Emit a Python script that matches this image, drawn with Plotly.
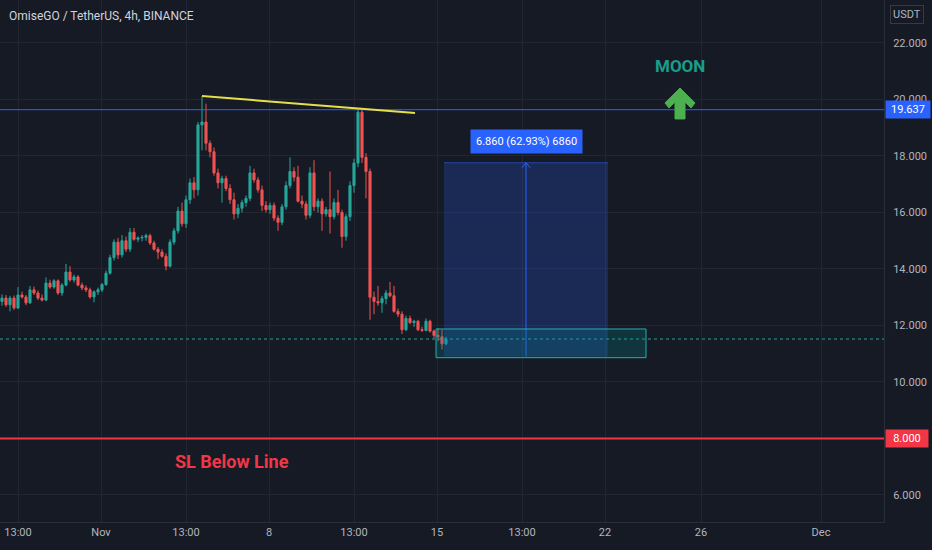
import plotly.graph_objects as go
import pandas as pd

# ---- OHLC data (OMG/USDT 4h) ----
opens = [12.85, 12.97, 12.73, 12.97, 12.62, 13.08, 13.01, 12.80, 13.26, 13.15,
         12.97, 12.90, 13.50, 13.36, 13.58, 13.15, 13.43, 13.89, 13.61, 13.72,
         13.43, 13.33, 13.26, 13.01, 13.19, 13.26, 13.45, 13.85, 14.40, 14.95,
         14.50, 15.00, 14.70, 15.30, 15.05, 15.10, 15.12, 15.18, 14.92, 14.70,
         14.60, 14.45, 14.10, 14.95, 15.35, 16.05, 15.60, 16.45, 17.05, 16.80,
         19.10, 19.20, 18.45, 18.15, 17.40, 17.05, 17.20, 16.85, 16.45, 15.95,
         16.15, 16.35, 16.50, 17.40, 17.15, 16.80, 16.25, 16.10, 16.25, 15.80,
         15.65, 16.20, 16.95, 17.45, 17.25, 16.40, 16.30, 15.90, 17.40, 16.20,
         16.40, 15.95, 16.10, 15.85, 16.35, 16.00, 15.15, 15.85, 16.95, 17.75,
         19.55, 17.95, 17.45, 13.00, 12.85, 12.80, 12.95, 13.15, 13.05, 12.50,
         12.40, 11.85, 12.25, 12.10, 12.15, 11.85, 11.82, 12.15, 11.80, 11.65,
         11.60, 11.35]
highs = [13.10, 13.08, 13.05, 13.06, 13.36, 13.20, 13.08, 13.40, 13.38, 13.24,
         13.10, 13.70, 13.62, 13.64, 13.63, 13.50, 14.18, 14.10, 13.80, 13.78,
         13.52, 13.42, 13.34, 13.24, 13.34, 13.50, 13.95, 14.50, 15.05, 15.10,
         15.20, 15.15, 15.45, 15.45, 15.15, 15.20, 15.25, 15.25, 15.00, 14.78,
         14.70, 14.55, 15.05, 15.45, 16.20, 16.35, 16.60, 17.20, 17.25, 19.20,
         20.12, 19.85, 18.55, 18.30, 17.55, 17.30, 17.30, 17.00, 16.70, 16.30,
         16.45, 16.60, 17.65, 17.55, 17.25, 16.95, 16.40, 16.35, 16.35, 15.90,
         16.30, 17.10, 17.95, 17.60, 17.65, 16.60, 16.40, 17.60, 17.85, 16.50,
         16.50, 16.20, 17.45, 16.50, 16.80, 16.10, 15.95, 17.10, 17.90, 19.70,
         19.65, 18.10, 17.55, 13.20, 13.40, 13.05, 13.25, 13.54, 13.40, 12.60,
         12.50, 12.35, 12.35, 12.20, 12.20, 11.95, 12.25, 12.20, 11.85, 11.90,
         11.85, 11.60]
lows = [12.70, 12.66, 12.50, 12.55, 12.58, 12.95, 12.72, 12.76, 13.08, 12.90,
        12.85, 12.86, 13.30, 13.30, 13.08, 13.05, 13.38, 13.55, 13.52, 13.38,
        13.25, 13.18, 12.95, 12.82, 13.08, 13.18, 13.40, 13.80, 14.30, 14.35,
        14.40, 14.60, 14.60, 15.00, 14.95, 14.98, 15.00, 14.85, 14.65, 14.35,
        14.40, 13.95, 14.05, 14.85, 15.25, 15.50, 15.45, 16.30, 16.50, 16.60,
        18.20, 18.20, 17.95, 17.30, 16.85, 16.35, 16.75, 16.30, 15.75, 15.80,
        16.00, 16.20, 16.40, 17.05, 16.70, 16.05, 16.00, 15.95, 15.70, 15.35,
        15.55, 16.10, 16.85, 17.10, 16.35, 16.15, 15.75, 15.80, 16.05, 16.00,
        15.35, 15.85, 15.25, 15.75, 15.90, 14.75, 15.00, 15.70, 16.70, 17.60,
        17.75, 16.50, 12.20, 12.40, 12.70, 12.45, 12.75, 13.00, 12.45, 12.30,
        11.70, 11.80, 12.05, 11.95, 11.80, 11.78, 11.80, 11.75, 11.55, 11.45,
        11.15, 11.30]
closes = [12.97, 12.73, 12.97, 12.62, 13.08, 13.01, 12.80, 13.26, 13.15, 12.97,
          12.90, 13.50, 13.36, 13.58, 13.15, 13.43, 13.89, 13.61, 13.72, 13.43,
          13.33, 13.26, 13.01, 13.19, 13.26, 13.45, 13.85, 14.40, 14.95, 14.50,
          15.00, 14.70, 15.30, 15.05, 15.10, 15.12, 15.18, 14.92, 14.70, 14.60,
          14.45, 14.10, 14.95, 15.35, 16.05, 15.60, 16.45, 17.05, 16.80, 19.10,
          19.20, 18.45, 18.15, 17.40, 17.05, 17.20, 16.85, 16.45, 15.95, 16.15,
          16.35, 16.50, 17.40, 17.15, 16.80, 16.25, 16.10, 16.25, 15.80, 15.65,
          16.20, 16.95, 17.45, 17.25, 16.40, 16.30, 15.90, 17.40, 16.20, 16.40,
          15.95, 16.10, 15.85, 16.35, 16.00, 15.15, 15.85, 16.95, 17.75, 19.55,
          17.95, 17.45, 13.00, 12.85, 12.80, 12.95, 13.15, 13.05, 12.50, 12.40,
          11.85, 12.25, 12.10, 12.15, 11.85, 11.82, 12.15, 11.80, 11.65, 11.60,
          11.35, 11.52]
first_candle = "2021-10-27 21:00"
times = pd.date_range(first_candle, periods=len(closes), freq="4h")

# ---- axis ticks ----
x_tickvals = ["2021-10-28 13:00", "2021-11-01", "2021-11-04 13:00", "2021-11-08",
              "2021-11-11 13:00", "2021-11-15", "2021-11-18 13:00", "2021-11-22",
              "2021-11-26", "2021-12-01"]
x_ticktext = ["13:00", "Nov", "13:00", "8", "13:00", "15", "13:00", "22", "26", "Dec"]
y_tickvals = [6, 8, 10, 12, 14, 16, 18, 20, 22]
x_range = ["2021-10-27 19:00", "2021-12-03 15:00"]
y_range = [5.044, 23.52]

# ---- drawing levels ----
resistance = 19.637
stop_level = 8.0
last_price = closes[-1]
trend_pts = (("2021-11-05 05:00", 20.12), ("2021-11-14 02:00", 19.52))
range_low, range_high = 10.901, 17.761
range_x = ("2021-11-15 07:00", "2021-11-22 03:00")
range_mid_x = "2021-11-18 17:00"
range_label = "6.860 (62.93%) 6860"
entry_box = (("2021-11-14 23:00", 10.86), ("2021-11-23 17:00", 11.876))

BG = "#161a25"
GRID = "#232632"
AXC = "#b2b5be"
GREEN = "#26a69a"
RED = "#ef5350"
FONT = "Roboto, Noto Sans, sans-serif"

fig = go.Figure(go.Candlestick(
    x=times, open=opens, high=highs, low=lows, close=closes,
    increasing=dict(line=dict(color=GREEN, width=1), fillcolor=GREEN),
    decreasing=dict(line=dict(color=RED, width=1), fillcolor=RED),
    whiskerwidth=0, hoverinfo="skip", showlegend=False,
))

shapes = [
    dict(type="line", xref="paper", x0=0, x1=1, yref="y", y0=resistance, y1=resistance,
         line=dict(color="#2962ff", width=1)),
    dict(type="line", xref="paper", x0=0, x1=1, yref="y", y0=stop_level, y1=stop_level,
         line=dict(color="#f23645", width=2)),
    dict(type="line", xref="paper", x0=0, x1=1, yref="y", y0=last_price, y1=last_price,
         line=dict(color=GREEN, width=1, dash="dot")),
    dict(type="line", x0=trend_pts[0][0], y0=trend_pts[0][1], x1=trend_pts[1][0], y1=trend_pts[1][1],
         line=dict(color="#e3e04a", width=2)),
    dict(type="rect", x0=range_x[0], x1=range_x[1], y0=range_low, y1=range_high,
         fillcolor="rgba(41,98,255,0.22)", line=dict(width=0)),
    dict(type="line", x0=range_x[0], x1=range_x[1], y0=range_high, y1=range_high,
         line=dict(color="rgba(41,98,255,0.55)", width=1)),
    dict(type="line", x0=range_mid_x, x1=range_mid_x, y0=range_low, y1=range_high,
         line=dict(color="#2962ff", width=1)),
    dict(type="path", xref="x", yref="y", xsizemode="pixel", ysizemode="pixel",
         xanchor=range_mid_x, yanchor=range_high,
         path="M -4,-5 L 0,0 L 4,-5", line=dict(color="#2962ff", width=1)),
    dict(type="rect", x0=entry_box[0][0], x1=entry_box[1][0], y0=entry_box[0][1], y1=entry_box[1][1],
         fillcolor="rgba(0,150,150,0.22)", line=dict(color="#22aeb3", width=1)),
    dict(type="path", xref="x", yref="y", xsizemode="pixel", ysizemode="pixel",
         xanchor="2021-11-25 03:00", yanchor=19.31,
         path="M 0,31 L 15,16 L 11,11 L 5,17 L 5,0 L -5,0 L -5,17 L -11,11 L -15,16 Z",
         fillcolor="#4caf50", line=dict(color="#4caf50", width=1)),
]

def ypaper(px):
    return 1 - px / 522.0

annotations = [
    dict(text="OmiseGO / TetherUS, 4h, BINANCE", xref="paper", yref="paper", x=0.008, y=ypaper(16),
         xanchor="left", yanchor="middle", showarrow=False, font=dict(color="#d1d4dc", size=12, family=FONT)),
    dict(text="USDT", xref="paper", yref="paper", x=1.0, xshift=6, y=ypaper(14), xanchor="left",
         yanchor="middle", showarrow=False, bordercolor="#363a45", borderwidth=1, borderpad=2,
         font=dict(color=AXC, size=11, family=FONT)),
    dict(text=f"{resistance:.3f}", xref="paper", yref="y", x=1.0, xshift=1, y=resistance, xanchor="left",
         yanchor="middle", showarrow=False, bgcolor="#2962ff", width=40, borderpad=2,
         font=dict(color="white", size=11, family=FONT)),
    dict(text=f"{stop_level:.3f}", xref="paper", yref="y", x=1.0, xshift=1, y=stop_level, xanchor="left",
         yanchor="middle", showarrow=False, bgcolor="#f23645", width=38, borderpad=2,
         font=dict(color="white", size=11, family=FONT)),
    dict(text=range_label, x=range_mid_x, y=18.50, showarrow=False, bgcolor="#2962ff", borderpad=5,
         font=dict(color="white", size=11, family=FONT)),
    dict(text="<b>MOON</b>", x="2021-11-25 03:00", y=21.19, showarrow=False,
         font=dict(color="#1a9e8c", size=17, family=FONT)),
    dict(text="<b>SL Below Line</b>", x="2021-11-06 11:00", y=7.17, showarrow=False,
         font=dict(color="#f23645", size=18, family=FONT)),
]

fig.update_layout(
    width=932, height=550,
    margin=dict(l=0, r=48, t=0, b=28),
    paper_bgcolor=BG, plot_bgcolor=BG,
    font=dict(family=FONT, color=AXC, size=11),
    shapes=shapes, annotations=annotations,
    boxgap=0.25,
    xaxis=dict(type="date", range=x_range, tickvals=x_tickvals, ticktext=x_ticktext,
               gridcolor=GRID, showline=True, linecolor="#2a2e39", zeroline=False,
               rangeslider=dict(visible=False), ticks="", fixedrange=True,
               tickfont=dict(color=AXC, size=11)),
    yaxis=dict(side="right", range=y_range, tickvals=y_tickvals, tickformat=".3f",
               gridcolor=GRID, showline=True, linecolor="#2a2e39", zeroline=False,
               ticks="", ticklabelstandoff=6, fixedrange=True,
               tickfont=dict(color=AXC, size=11)),
    hovermode=False,
)

fig.write_html(
    "out.html",
    config={"displayModeBar": False},
    post_script="document.body.style.margin='0';document.body.style.padding='0';"
                "document.body.style.background='#161a25';document.body.style.overflow='hidden';",
)
